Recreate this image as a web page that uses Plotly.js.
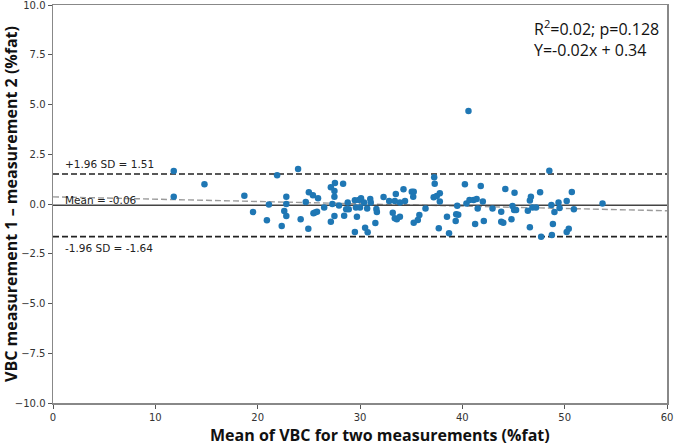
<!DOCTYPE html>
<html>
<head>
<meta charset="utf-8">
<script src="https://cdn.plot.ly/plotly-3.0.1.min.js"></script>
<style>
  html, body { margin: 0; padding: 0; background: #fff; }
  #plot { width: 674px; height: 445px; }
</style>
</head>
<body>
<div id="plot"></div>
<script>
// mean of the two measurements (%fat)
const meanVals = [
  11.8, 11.8, 14.8, 18.7, 19.55, 20.9, 21.9, 21.1, 22.35, 22.8,
  22.8, 22.6, 22.8, 23.95, 24.2, 24.7, 25.0, 25.4, 25.9, 25.45,
  25.8, 25.6, 26.5, 27.15, 27.5, 27.55, 27.5, 27.3, 27.95, 27.5,
  27.15, 24.95, 28.35, 28.45, 28.8, 28.65, 28.9, 29.5, 29.7, 29.5,
  29.9, 30.1, 29.6, 30.0, 30.4, 30.7, 30.5, 30.75, 31.0, 31.05,
  31.5, 31.6, 31.65, 32.3, 32.85, 33.4, 33.5, 33.2, 33.4, 33.6,
  33.9, 33.9, 34.25, 34.4, 35.06, 35.25, 35.2, 35.25, 35.8, 35.65,
  36.4, 37.25, 37.3, 37.2, 37.5, 37.8, 37.8, 37.7, 38.5, 38.7,
  39.4, 39.6, 39.35, 39.5, 40.25, 40.4, 40.7, 41.1, 41.4, 41.25,
  41.5, 41.8, 42.0, 42.1, 42.95, 43.8, 43.8, 44.0, 44.2, 44.8,
  44.9, 45.06, 45.25, 45.1, 46.4, 46.6, 46.7, 46.6, 46.85, 47.2,
  47.6, 47.7, 48.5, 48.7, 48.85, 49.0, 48.75, 49.4, 49.5, 50.2,
  50.7, 50.9, 50.4, 50.2, 53.7, 40.6
];
// difference measurement 1 - measurement 2 (%fat)
const diffVals = [
  1.66, 0.37, 0.99, 0.42, -0.40, -0.82, 1.44, -0.03, -1.10, 0.37,
  0.00, -0.35, -0.60, 1.76, -0.77, 0.10, 0.59, 0.44, 0.29, -0.47,
  -0.39, -0.43, -0.18, 0.84, 0.65, 1.06, 0.37, 0.00, -0.08, -0.60,
  -0.89, -1.24, 1.02, -0.59, 0.07, -0.27, -0.27, 0.19, -0.64, -1.41,
  0.20, 0.29, -0.17, -0.17, 0.07, -0.22, -1.19, -1.42, 0.25, 0.07,
  -0.95, -0.25, -0.40, 0.35, 0.15, 0.15, 0.50, -0.44, -0.72, -0.77,
  -0.64, 0.08, 0.74, 0.15, 0.62, 0.62, 0.37, -0.94, -0.55, -0.80,
  -0.22, 1.34, 1.02, 0.34, 0.40, 0.54, 0.12, -1.22, -0.64, -1.47,
  -0.52, -0.54, -0.85, -0.09, 0.99, 0.03, 0.20, 0.20, 0.25, -1.00,
  -0.22, 0.90, 0.12, -0.85, -0.22, -0.39, -0.89, -0.94, 0.75, -0.77,
  -0.10, -0.30, -0.30, 0.57, -0.34, 0.17, 0.37, -1.17, -0.17, -0.17,
  0.59, -1.64, 1.67, -0.05, -1.00, -0.40, -1.56, 0.07, -0.20, 0.15,
  0.60, -0.27, -1.24, -1.41, 0.02, 4.67
];

const meanDiff = -0.06;
const upperLoA = 1.51;
const lowerLoA = -1.64;
const xSpan = [0, 60];
const regY = [0.36, -0.34];   // fitted line as drawn, at x = 0 and x = 60

const xTicks = [0, 10, 20, 30, 40, 50, 60];
const yTicks = [-10, -7.5, -5, -2.5, 0, 2.5, 5, 7.5, 10];
const yTickText = ['\u221210.0', '\u22127.5', '\u22125.0', '\u22122.5', '0.0', '2.5', '5.0', '7.5', '10.0'];

const hline = (y, color, dash, width) => ({
  x: xSpan, y: [y, y], type: 'scatter', mode: 'lines',
  line: { color: color, dash: dash, width: width }, hoverinfo: 'skip'
});

const traces = [
  hline(upperLoA, '#222', '6px,3px', 1.6),
  hline(lowerLoA, '#222', '6px,3px', 1.6),
  { x: xSpan, y: regY, type: 'scatter', mode: 'lines',
    line: { color: '#9a9a9a', dash: '6px,3px', width: 1.4 }, hoverinfo: 'skip' },
  hline(meanDiff, '#444', 'solid', 1.6),
  { x: meanVals, y: diffVals, type: 'scatter', mode: 'markers',
    marker: { color: '#1f77b4', size: 6.5, line: { width: 0 } } }
];

const tickFont = { family: 'DejaVu Sans', size: 10, color: '#333' };
const titleFont = { family: 'Open Sans', size: 16, color: '#111', weight: 'bold' };
const labelFont = { family: 'DejaVu Sans', size: 10.5, color: '#222' };

const layout = {
  width: 674,
  height: 445,
  margin: { l: 53, r: 7, t: 5, b: 42 },
  paper_bgcolor: '#fff',
  plot_bgcolor: '#fff',
  showlegend: false,
  xaxis: {
    range: xSpan,
    tickvals: xTicks,
    ticks: 'outside', ticklen: 4, tickcolor: '#555',
    tickfont: tickFont,
    ticklabeloverflow: 'allow',
    showgrid: false, zeroline: false,
    showline: true, linecolor: '#888', linewidth: 1.5, mirror: true
  },
  yaxis: {
    range: [-10, 10],
    tickvals: yTicks,
    ticktext: yTickText,
    ticks: 'outside', ticklen: 4, tickcolor: '#555',
    tickfont: tickFont,
    ticklabeloverflow: 'allow',
    showgrid: false, zeroline: false,
    showline: true, linecolor: '#888', linewidth: 1.5, mirror: true,
    title: { text: 'VBC measurement 1 \u2013 measurement 2 (%fat)', font: titleFont, standoff: 0 }
  },
  annotations: [
    { x: 0.533, y: 0, xref: 'paper', yref: 'paper', xanchor: 'center', yanchor: 'middle', yshift: -32,
      text: 'Mean of VBC for two measurements (%fat)', showarrow: false, font: titleFont },
    { x: 1.0, y: upperLoA, xref: 'x', yref: 'y', xanchor: 'left', yanchor: 'bottom', yshift: 2,
      text: '+1.96 SD = 1.51', showarrow: false, font: labelFont },
    { x: 1.0, y: meanDiff, xref: 'x', yref: 'y', xanchor: 'left', yanchor: 'bottom', yshift: -3,
      text: 'Mean = -0.06', showarrow: false, font: labelFont },
    { x: 1.0, y: lowerLoA, xref: 'x', yref: 'y', xanchor: 'left', yanchor: 'top', yshift: -3,
      text: '-1.96 SD = -1.64', showarrow: false, font: labelFont },
    { x: 0.78, y: 0.978, xref: 'paper', yref: 'paper', xanchor: 'left', yanchor: 'top', align: 'left',
      text: 'R<sup>2</sup>=0.02; p=0.128<br>Y=-0.02x + 0.34', showarrow: false,
      font: { family: 'Open Sans', size: 16, color: '#111' } }
  ]
};

Plotly.newPlot('plot', traces, layout, { displayModeBar: false, staticPlot: true });
</script>
</body>
</html>
